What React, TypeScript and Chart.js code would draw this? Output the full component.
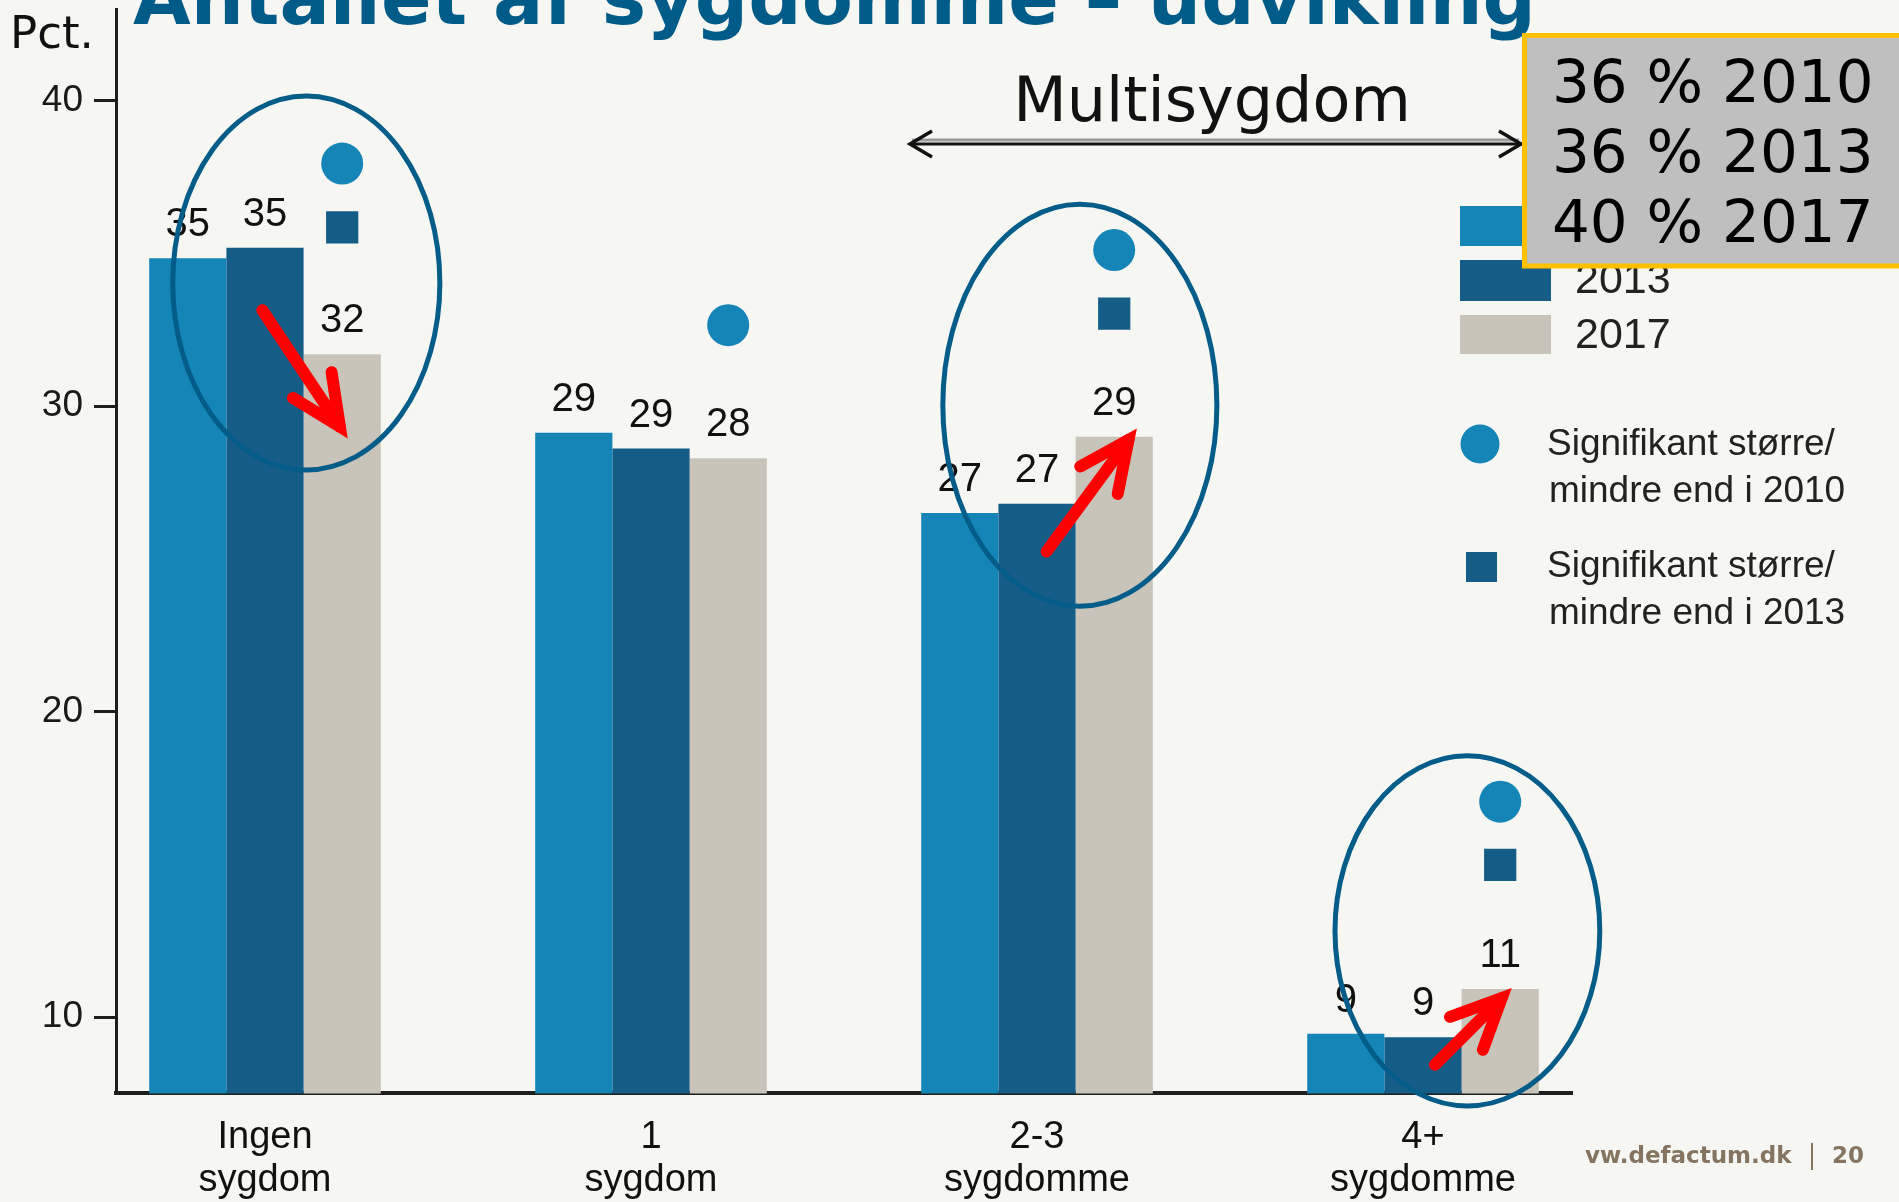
import React, { useEffect, useRef } from 'react';
import { Chart, registerables } from 'chart.js';

Chart.register(...registerables);

const W = 1899;
const H = 1202;

// ---------- data ----------
const categoryLabels = [['Ingen', 'sygdom'], ['1', 'sygdom'], ['2-3', 'sygdomme'], ['4+', 'sygdomme']];
const seriesNames = ['2010', '2013', '2017'];
const values2010 = [34.84, 29.13, 26.5, 9.45];
const values2013 = [35.18, 28.61, 26.8, 9.34];
const values2017 = [31.7, 28.29, 29.0, 10.92];
const labels2010 = ['35', '29', '27', '9'];
const labels2013 = ['35', '29', '27', '9'];
const labels2017 = ['32', '28', '29', '11'];
const signif2010 = [37.94, 32.65, 35.11, 17.05];
const signif2013: (number | null)[] = [35.85, null, 33.03, 14.98];
const yTicks = [10, 20, 30, 40];
const summaryLines = ['36 % 2010', '36 % 2013', '40 % 2017'];
const signifLegend2010 = ['Signifikant større/', 'mindre end i 2010'];
const signifLegend2013 = ['Signifikant større/', 'mindre end i 2013'];

// annotation shapes (in data units: category index offset, value)
const ellipses = [
  { cat: 0, dx: 0.107, y: 34.03, rx: 0.346, ry: 6.12 },
  { cat: 2, dx: 0.111, y: 30.03, rx: 0.355, ry: 6.58 },
  { cat: 3, dx: 0.115, y: 12.82, rx: 0.343, ry: 5.73 },
];
const trendArrows = [
  { cat: 0, x1: -0.007, y1: 33.14, x2: 0.194, y2: 29.33 },
  { cat: 2, x1: 0.025, y1: 25.24, x2: 0.237, y2: 28.89 },
  { cat: 3, x1: 0.031, y1: 8.44, x2: 0.204, y2: 10.62 },
];

// ---------- styles ----------
const BG = '#f6f6f2';
const colors = ['#1585b8', '#155c87', '#c8c4ba'];
const markerOffset = 0.2;
const SANS = "'Liberation Sans', Arial, Helvetica, sans-serif";
const VERD = "'DejaVu Sans', Verdana, sans-serif";

const barLabelSets = [labels2010, labels2013, labels2017];

const labelPlugin = {
  id: 'barLabels',
  afterDatasetsDraw(chart: any) {
    const ctx = chart.ctx;
    ctx.save();
    ctx.font = `40px ${SANS}`;
    ctx.fillStyle = '#111';
    ctx.textAlign = 'center';
    ctx.textBaseline = 'alphabetic';
    barLabelSets.forEach((labels, di) => {
      const meta = chart.getDatasetMeta(di);
      meta.data.forEach((el: any, i: number) => {
        ctx.fillText(labels[i], el.x, el.y - 22);
      });
    });
    ctx.restore();
  },
};

const annotationPlugin = {
  id: 'handDrawn',
  afterDraw(chart: any) {
    const ctx = chart.ctx;
    const xs = chart.scales.x;
    const ys = chart.scales.y;
    ctx.save();
    // ellipses
    ctx.strokeStyle = '#045c89';
    ctx.lineWidth = 5;
    ellipses.forEach((e) => {
      const cx = xs.getPixelForValue(e.cat + e.dx);
      const cy = ys.getPixelForValue(e.y);
      const rx = xs.getPixelForValue(e.cat + e.dx + e.rx) - cx;
      const ry = ys.getPixelForValue(e.y - e.ry) - cy;
      ctx.beginPath();
      ctx.ellipse(cx, cy, Math.abs(rx), Math.abs(ry), 0, 0, Math.PI * 2);
      ctx.stroke();
    });
    // red arrows
    ctx.strokeStyle = '#ff0000';
    ctx.lineWidth = 12;
    ctx.lineCap = 'round';
    ctx.lineJoin = 'miter';
    trendArrows.forEach((a) => {
      const x1 = xs.getPixelForValue(a.cat + a.x1);
      const y1 = ys.getPixelForValue(a.y1);
      const x2 = xs.getPixelForValue(a.cat + a.x2);
      const y2 = ys.getPixelForValue(a.y2);
      const ang = Math.atan2(y2 - y1, x2 - x1);
      const len = 55;
      const spread = (25 * Math.PI) / 180;
      ctx.beginPath();
      ctx.moveTo(x1, y1);
      ctx.lineTo(x2, y2);
      ctx.stroke();
      ctx.beginPath();
      ctx.moveTo(x2 - len * Math.cos(ang - spread), y2 - len * Math.sin(ang - spread));
      ctx.lineTo(x2, y2);
      ctx.lineTo(x2 - len * Math.cos(ang + spread), y2 - len * Math.sin(ang + spread));
      ctx.stroke();
    });
    ctx.restore();
  },
};

export default function App() {
  const canvasRef = useRef<HTMLCanvasElement | null>(null);

  useEffect(() => {
    document.body.style.margin = '0';
    document.body.style.background = BG;
    const canvas = canvasRef.current;
    if (!canvas) return;
    const barData = [values2010, values2013, values2017];
    const chart = new Chart(canvas, {
      type: 'bar',
      data: {
        datasets: [
          ...barData.map((vals, si) => ({
            type: 'bar' as const,
            label: seriesNames[si],
            data: vals.map((v, i) => ({ x: i, y: v })),
            backgroundColor: colors[si],
            borderWidth: 0,
            categoryPercentage: 0.6,
            barPercentage: 1,
          })),
          {
            type: 'scatter' as const,
            label: signifLegend2010.join(''),
            data: signif2010.map((v, i) => ({ x: i + markerOffset, y: v })),
            pointStyle: 'circle',
            pointRadius: 21,
            pointHoverRadius: 21,
            backgroundColor: colors[0],
            borderWidth: 0,
          },
          {
            type: 'scatter' as const,
            label: signifLegend2013.join(''),
            data: signif2013
              .map((v, i) => (v == null ? null : { x: i + markerOffset, y: v }))
              .filter((p) => p !== null),
            pointStyle: 'rect',
            pointRadius: 22.8,
            pointHoverRadius: 22.8,
            backgroundColor: colors[1],
            borderWidth: 0,
          },
        ] as any,
      },
      options: {
        animation: false,
        responsive: false,
        devicePixelRatio: 1,
        events: [],
        layout: { autoPadding: false, padding: { left: 0, top: 9, right: 327, bottom: 0 } },
        plugins: {
          legend: { display: false },
          tooltip: { enabled: false },
          title: { display: false },
        },
        scales: {
          x: {
            type: 'linear',
            min: -0.386,
            max: 3.386,
            offset: false,
            grid: { display: false, drawTicks: false, tickLength: 0, offset: false },
            border: { display: true, color: '#1e1e1e', width: 4 },
            afterBuildTicks: (axis: any) => {
              axis.ticks = categoryLabels.map((_, i) => ({ value: i }));
            },
            afterFit: (axis: any) => {
              axis.height = 108.6;
              axis.paddingLeft = 0;
              axis.paddingRight = 0;
              axis.paddingTop = 0;
              axis.paddingBottom = 0;
            },
            ticks: {
              autoSkip: false,
              maxRotation: 0,
              minRotation: 0,
              padding: 22.5,
              color: '#111',
              font: { family: SANS, size: 38, lineHeight: 1.13 },
              callback: (value: any) => categoryLabels[Math.round(Number(value))] ?? '',
            },
          },
          y: {
            type: 'linear',
            min: 7.5,
            max: 43,
            grid: {
              display: true,
              drawOnChartArea: false,
              drawTicks: true,
              tickLength: 22,
              color: '#1e1e1e',
              lineWidth: 3,
            },
            border: { display: true, color: '#1e1e1e', width: 3 },
            afterBuildTicks: (axis: any) => {
              axis.ticks = yTicks.map((v) => ({ value: v }));
            },
            afterFit: (axis: any) => {
              axis.width = 116;
              axis.paddingTop = 0;
              axis.paddingBottom = 0;
              axis.paddingLeft = 0;
              axis.paddingRight = 0;
            },
            ticks: {
              padding: 11,
              color: '#1a1a1a',
              font: { family: SANS, size: 37 },
              callback: (value: any) => String(value),
            },
          },
        },
      } as any,
      plugins: [labelPlugin, annotationPlugin],
    });
    return () => chart.destroy();
  }, []);

  const legendBoxes = [
    { y: 206, h: 40, text: seriesNames[0], base: 239 },
    { y: 260, h: 41, text: seriesNames[1], base: 293 },
    { y: 315, h: 39, text: seriesNames[2], base: 348 },
  ];

  return (
    <div
      style={{
        position: 'absolute',
        left: 0,
        top: 0,
        width: W,
        height: H,
        overflow: 'hidden',
        background: BG,
      }}
    >
      <canvas
        ref={canvasRef}
        width={W}
        height={H}
        style={{ position: 'absolute', left: 0, top: 0, width: W, height: H }}
      />
      <svg
        width={W}
        height={H}
        viewBox={`0 0 ${W} ${H}`}
        style={{ position: 'absolute', left: 0, top: 0, pointerEvents: 'none' }}
      >
        {/* title (cut off at top) */}
        <text
          x={133}
          y={24}
          fontFamily={VERD}
          fontWeight="bold"
          fontSize={74}
          fill="#005b88"
          textLength={1403}
          lengthAdjust="spacingAndGlyphs"
        >
          Antallet af sygdomme – udvikling
        </text>
        {/* y axis unit */}
        <text x={10} y={48} fontFamily={VERD} fontSize={45} fill="#111">
          Pct.
        </text>
        {/* Multisygdom + double arrow */}
        <text x={1212} y={121} fontFamily={VERD} fontSize={62} fill="#111" textAnchor="middle">
          Multisygdom
        </text>
        <line x1={912} y1={140} x2={1519} y2={140} stroke="#9a9a9a" strokeWidth={3} />
        <line x1={912} y1={144} x2={1519} y2={144} stroke="#111" strokeWidth={3} />
        <polyline points="932,131 910,144 932,157" fill="none" stroke="#111" strokeWidth={3.5} />
        <polyline points="1499,131 1521,144 1499,157" fill="none" stroke="#111" strokeWidth={3.5} />

        {/* legend */}
        {legendBoxes.map((b, i) => (
          <g key={i}>
            <rect x={1460} y={b.y} width={91} height={b.h} fill={colors[i]} />
            <text x={1575} y={b.base} fontFamily={SANS} fontSize={43} fill="#222">
              {b.text}
            </text>
          </g>
        ))}
        <circle cx={1480} cy={444} r={19.5} fill={colors[0]} />
        <text x={1547} y={455} fontFamily={SANS} fontSize={37} fill="#222">
          {signifLegend2010[0]}
        </text>
        <text x={1549} y={502} fontFamily={SANS} fontSize={37} fill="#222">
          {signifLegend2010[1]}
        </text>
        <rect x={1466} y={552} width={31} height={30} fill={colors[1]} />
        <text x={1547} y={577} fontFamily={SANS} fontSize={37} fill="#222">
          {signifLegend2013[0]}
        </text>
        <text x={1549} y={624} fontFamily={SANS} fontSize={37} fill="#222">
          {signifLegend2013[1]}
        </text>

        {/* summary box */}
        <rect x={1524.5} y={35.5} width={420} height={230.5} fill="#bfbfbf" stroke="#ffc000" strokeWidth={5} />
        {summaryLines.map((t, i) => (
          <text key={i} x={1552} y={101.7 + i * 70} fontFamily={VERD} fontSize={59.5} fill="#000">
            {t}
          </text>
        ))}

        {/* footer */}
        <text x={1585} y={1163} fontFamily={VERD} fontWeight="bold" fontSize={23} fill="#857560">
          vw.defactum.dk
        </text>
        <line x1={1812} y1={1143} x2={1812} y2={1170} stroke="#857560" strokeWidth={2} />
        <text x={1832} y={1163} fontFamily={VERD} fontWeight="bold" fontSize={23} fill="#857560">
          20
        </text>
      </svg>
    </div>
  );
}
